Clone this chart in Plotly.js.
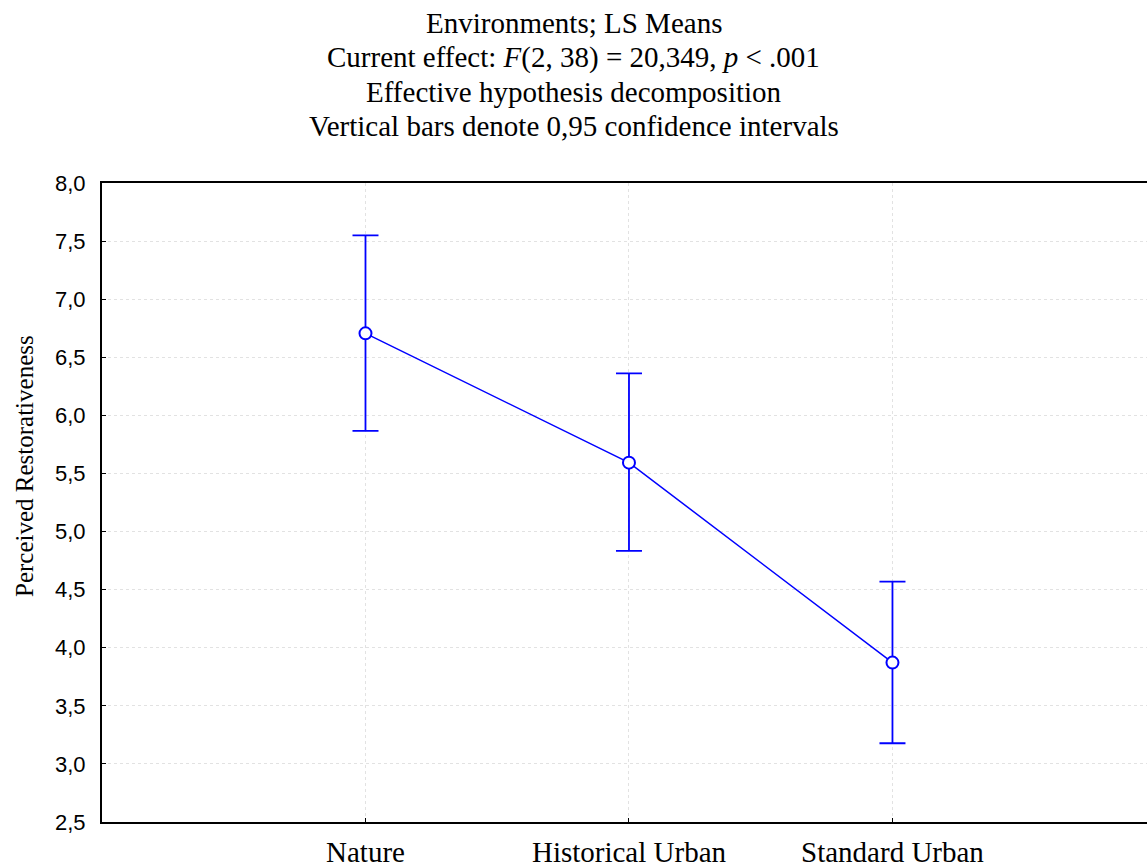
<!DOCTYPE html>
<html>
<head>
<meta charset="utf-8">
<script src="https://cdn.plot.ly/plotly-3.0.1.min.js"></script>
<style>html,body{margin:0;padding:0;background:#fff;}#chart{width:1147px;height:868px;}</style>
</head>
<body>
<div id="chart"></div>
<script>
const categories = ["Nature", "Historical Urban", "Standard Urban"];
const means = [6.706, 5.593, 3.872];
const upperCI = [7.55, 6.362, 4.569];
const lowerCI = [5.866, 4.833, 3.178];
const yTickVals = [2.5, 3.0, 3.5, 4.0, 4.5, 5.0, 5.5, 6.0, 6.5, 7.0, 7.5, 8.0];
const yTickText = ["2,5", "3,0", "3,5", "4,0", "4,5", "5,0", "5,5", "6,0", "6,5", "7,0", "7,5", "8,0"];
const titleLines = [
  "Environments; LS Means",
  "Current effect: <i>F</i>(2, 38) = 20,349, <i>p</i> &lt; .001",
  "Effective hypothesis decomposition",
  "Vertical bars denote 0,95 confidence intervals"
];
const yTitle = "Perceived Restorativeness";

const xIdx = categories.map((c, i) => i);
const errPlus = means.map((m, i) => upperCI[i] - m);
const errMinus = means.map((m, i) => m - lowerCI[i]);

const trace = {
  x: xIdx,
  y: means,
  type: 'scatter',
  mode: 'lines+markers',
  line: {color: '#0000ff', width: 1.5},
  marker: {symbol: 'circle', size: 12, color: '#ffffff', line: {color: '#0000ff', width: 2}},
  error_y: {type: 'data', symmetric: false, array: errPlus, arrayminus: errMinus,
            color: '#0000ff', thickness: 1.8, width: 13},
  cliponaxis: false,
  hoverinfo: 'x+y'
};

const serif = '"Liberation Serif", "Times New Roman", serif';
const W = 1147, H = 868, mL = 102, mR = 0, mT = 183, mB = 46;
const plotH = H - mT - mB, plotW = W - mL - mR;
const pyToPaper = py => (H - mB - py) / plotH;
const pxToPaper = px => (px - mL) / plotW;

const titleCenters = [23, 57.3, 91.6, 126];
const annotations = titleLines.map((t, i) => ({
  text: t, xref: 'paper', yref: 'paper',
  x: pxToPaper(W / 2), y: pyToPaper(titleCenters[i]),
  xanchor: 'center', yanchor: 'middle', showarrow: false,
  font: {family: serif, size: 29, color: '#000'}
}));
annotations.push({
  text: yTitle, xref: 'paper', yref: 'paper',
  x: pxToPaper(25), y: pyToPaper(466),
  xanchor: 'center', yanchor: 'middle', showarrow: false, textangle: -90,
  font: {family: serif, size: 25, color: '#000'}
});

const layout = {
  width: W, height: H,
  margin: {l: mL, r: mR, t: mT, b: mB},
  paper_bgcolor: '#ffffff', plot_bgcolor: '#ffffff',
  showlegend: false,
  annotations: annotations,
  xaxis: {
    range: [-1, 2.966],
    tickmode: 'array', tickvals: xIdx, ticktext: categories,
    tickfont: {family: serif, size: 29, color: '#000'},
    ticks: 'inside', ticklen: 4, tickwidth: 1, tickcolor: '#000',
    showline: true, linecolor: '#000', linewidth: 2, mirror: true,
    showgrid: true, gridcolor: '#e2e2e2', griddash: 'dot', gridwidth: 1,
    zeroline: false, ticklabelstandoff: 3
  },
  yaxis: {
    range: [2.5, 8.0],
    tickmode: 'array', tickvals: yTickVals, ticktext: yTickText,
    tickfont: {family: '"Liberation Sans", Arial, sans-serif', size: 22, color: '#000'},
    ticks: 'inside', ticklen: 4, tickwidth: 1, tickcolor: '#000',
    showline: true, linecolor: '#000', linewidth: 2, mirror: false,
    showgrid: true, gridcolor: '#e2e2e2', griddash: 'dot', gridwidth: 1,
    zeroline: false, ticklabelstandoff: 10
  }
};

Plotly.newPlot('chart', [trace], layout, {displayModeBar: false, staticPlot: true});
</script>
</body>
</html>
